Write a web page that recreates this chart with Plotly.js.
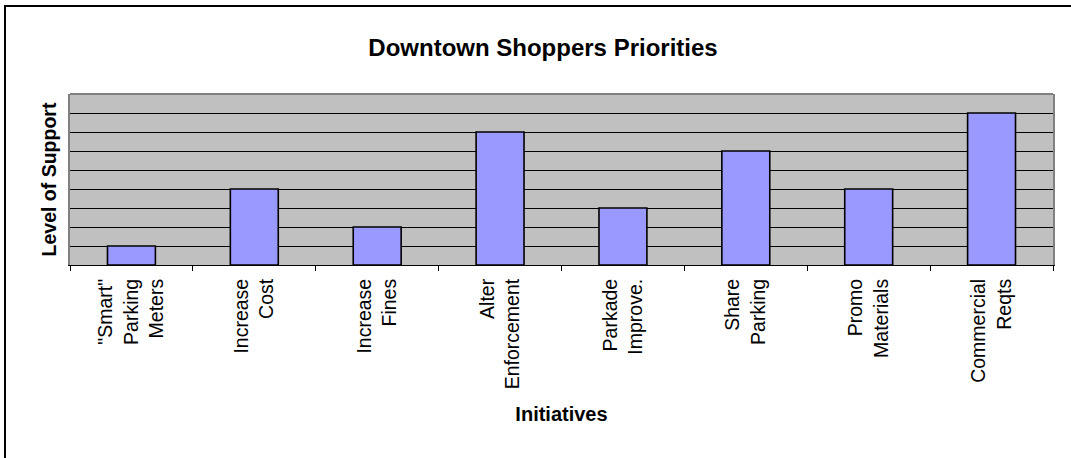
<!DOCTYPE html>
<html>
<head>
<meta charset="utf-8">
<script src="https://cdn.plot.ly/plotly-3.0.1.min.js"></script>
<style>
  html, body { margin: 0; padding: 0; width: 1071px; height: 458px; overflow: hidden; background: #fff; }
  #chart { position: absolute; left: 0; top: 0; width: 1071px; height: 458px; }
  #frame { position: absolute; left: 4px; top: 5px; width: 2000px; height: 2000px; border: 2px solid #000; pointer-events: none; }
</style>
</head>
<body>
<div id="chart"></div>
<div id="frame"></div>
<script>
// Data
const initiatives = [
  '"Smart"<br>Parking<br>Meters',
  'Increase<br>Cost',
  'Increase<br>Fines',
  'Alter<br>Enforcement',
  'Parkade<br>Improve.',
  'Share<br>Parking',
  'Promo<br>Materials',
  'Commercial<br>Reqts'
];
const levelOfSupport = [1, 4, 2, 7, 3, 6, 4, 8];

const FONT = 'Arial, "Liberation Sans", sans-serif';

const trace = {
  type: 'bar',
  x: initiatives,
  y: levelOfSupport,
  marker: { color: '#9999FF', line: { color: '#000000', width: 1.6 } },
  hoverinfo: 'x+y'
};

const layout = {
  width: 1071,
  height: 458,
  margin: { l: 70, r: 18, t: 94, b: 193 },
  paper_bgcolor: '#ffffff',
  plot_bgcolor: '#C0C0C0',
  bargap: 0.61,
  showlegend: false,
  title: {
    text: '<b>Downtown Shoppers Priorities</b>',
    font: { family: FONT, size: 24, color: '#000' },
    xref: 'container', x: 0.507, xanchor: 'center',
    yref: 'container', y: 0.895, yanchor: 'middle'
  },
  xaxis: {
    type: 'category',
    tickson: 'boundaries',
    ticks: 'outside',
    ticklen: 5,
    tickcolor: '#000',
    tickwidth: 1,
    tickangle: -90,
    ticklabelstandoff: 5,
    tickfont: { family: FONT, size: 19.5, color: '#000' },
    showline: true,
    linecolor: '#000',
    linewidth: 1,
    showgrid: false,
    automargin: false,
    title: {
      text: '<b>Initiatives</b>',
      font: { family: FONT, size: 20, color: '#000' },
      standoff: 18
    }
  },
  yaxis: {
    range: [0, 9],
    dtick: 1,
    showticklabels: false,
    ticks: '',
    showgrid: true,
    gridcolor: '#000',
    gridwidth: 1,
    zeroline: false,
    showline: true,
    mirror: true,
    linecolor: '#808080',
    linewidth: 2,
    automargin: false,
    title: {
      text: '<b>Level of Support</b>',
      font: { family: FONT, size: 19.5, color: '#000' },
      standoff: 6
    }
  },
  shapes: [{
    type: 'line', xref: 'paper', yref: 'paper',
    x0: 0, x1: 1, y0: 1, y1: 1,
    line: { color: '#808080', width: 2 }
  }]
};

Plotly.newPlot('chart', [trace], layout, { displayModeBar: false });
</script>
</body>
</html>
